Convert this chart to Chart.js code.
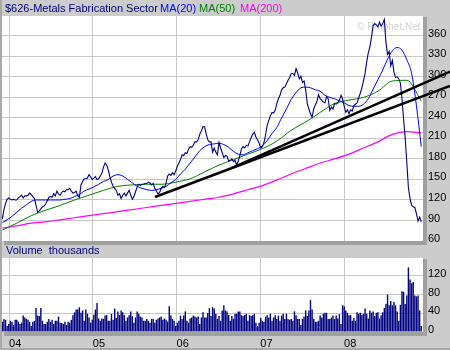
<!DOCTYPE html>
<html>
<head>
<meta charset="utf-8">
<script src="https://cdn.jsdelivr.net/npm/chart.js@4.4.0/dist/chart.umd.min.js"></script>
<style>
  body { margin: 0; }
  #wrap {
    position: relative; width: 450px; height: 350px; overflow: hidden;
    background: #cccccc;
    font-family: "Liberation Sans", Arial, sans-serif; font-size: 11px;
  }
  #wrap .edge-l { position: absolute; left: 0; top: 0; width: 2px; height: 350px; background: #a8a8a8; }
  #wrap .edge-b { position: absolute; left: 0; bottom: 0; width: 450px; height: 2px; background: #a8a8a8; }
  .txt { position: absolute; white-space: nowrap; line-height: 13px; }
  canvas { position: absolute; left: 0; }
</style>
</head>
<body>
<div id="wrap">
  <canvas id="price" width="450" height="246" style="top:0"></canvas>
  <canvas id="volume" width="450" height="104" style="top:246px"></canvas>
  <div class="edge-l"></div>
  <div class="edge-b"></div>
  <span class="txt" style="left:5px;top:2px;color:#000080">$626-Metals Fabrication Sector</span>
  <span class="txt" style="left:160px;top:2px;color:#0000ff">MA(20)</span>
  <span class="txt" style="left:199px;top:2px;color:#008000">MA(50)</span>
  <span class="txt" style="left:240px;top:2px;color:#ff00ff">MA(200)</span>
  <span class="txt" style="left:6px;top:244px;color:#000080">Volume&nbsp; thousands</span>
</div>

<script>
/* =====================================================
   DATA  (weekly closes, Dec 2003 - Nov 2008)
===================================================== */
const START = 2003.92;          // first week, decimal year
const WEEK = 7 / 365.25;

const YEARS = [2004, 2005, 2006, 2007, 2008];
const YEAR_LABELS = ["04", "05", "06", "07", "08"];
const PRICE_TICKS = [60, 90, 120, 150, 180, 210, 240, 270, 300, 330, 360];
const VOLUME_TICKS = [0, 40, 80, 120];

const PRICE = [
  92,106,115,121,123,121,120,121,120,120,
  123,125,127,123,126,126,127,130,128,125,
  122,112,102,104,107,110,111,114,119,124,
  125,124,129,126,133,129,127,131,133,132,
  135,135,137,133,130,131,133,126,124,142,
  147,151,151,152,157,154,150,152,154,150,
  151,155,159,168,174,171,164,154,146,140,
  137,134,127,129,122,127,130,126,130,134,
  127,121,125,132,139,143,141,143,143,144,
  144,146,145,142,144,137,133,129,131,137,
  140,138,145,155,158,156,160,157,162,169,
  174,179,186,185,189,188,194,198,197,200,
  205,205,208,216,221,227,227,217,208,205,
  205,190,196,190,186,204,196,189,182,185,
  184,177,178,180,176,178,171,177,185,195,
  198,196,200,199,205,211,216,219,212,208,
  203,196,198,204,215,229,236,243,248,247,
  251,261,268,273,281,284,285,290,295,299,
  305,305,302,312,306,297,301,292,294,281,
  261,253,246,241,253,259,264,274,268,266,
  263,262,271,268,251,256,253,261,260,262,
  266,273,268,257,248,252,246,252,250,258,
  260,262,269,276,284,294,305,322,335,344,
  358,375,378,376,373,380,374,378,384,350,
  333,337,316,324,307,299,300,297,291,268,
  238,210,175,138,122,112,110,109,100,89,
  95,88
];

// moving averages, sampled every few weeks
const MA20_STEP = 3;
const MA20 = [
  87,91,96,102,108,113,118,120,120,120,
  120,120,120,121,122,125,128,133,136,139,
  143,147,150,155,157,155,150,145,140,137,
  135,134,135,137,140,145,150,158,165,174,
  183,192,198,201,202,203,201,197,191,187,
  186,189,192,195,199,207,217,226,240,253,
  267,277,284,285,284,281,279,273,270,268,
  265,262,258,257,257,260,268,282,296,310,
  326,338,343,339,325,305,258,198
];

const MA_LONG_STEP = 9;
const MA50 = [
  76,86,97,105,112,120,127,134,140,142,
  143,143,146,151,161,171,179,187,195,206,
  222,234,248,261,266,270,279,294,295,265
];
const MA200 = [
  79,82,86,88,91,94,97,100,103,106,
  109,112,115,118,121,124,129,135,141,149,
  158,166,174,180,187,196,205,216,220,218
];

// trendlines: [date, price] end points
const TREND_LOW_DATES = [2005.743, 2009.266];
const TREND_LOW_VALUES = [124.4, 286.8];
const TREND_HIGH_DATES = [2006.663, 2009.266];
const TREND_HIGH_VALUES = [166.8, 307.8];

const VOLUME = [
  22,28,26,13,17,24,22,15,26,26,
  22,17,20,35,31,28,26,22,13,22,
  24,51,35,34,51,24,17,17,22,28,
  22,
  26,17,24,24,33,20,19,17,22,15,
  22,20,26,36,42,48,48,53,41,46,
  24,48,39,31,20,26,37,48,62,29,
  24,29,28,35,36,24,24,39,26,50,
  30,
  44,36,46,42,36,24,31,36,44,34,
  20,31,44,39,33,31,24,24,28,24,
  20,28,28,20,26,29,31,33,26,29,
  26,22,55,35,28,24,13,20,24,35,
  28,
  35,44,24,20,29,31,35,33,31,33,
  17,31,42,31,31,40,51,34,53,50,
  39,28,34,24,46,57,46,44,36,24,
  34,28,39,39,44,44,36,34,36,39,
  24,36,34,36,39,20,13,20,
  30,
  24,22,33,36,31,39,24,31,36,28,
  35,24,35,39,28,39,28,26,28,24,
  44,36,28,28,15,28,33,46,
  34,
  46,68,48,28,22,22,24,35,31,39,
  41,41,28,28,31,35,28,35,29,38,
  17,57,55,46,41,36,36,24,
  30,
  24,42,39,41,36,39,50,39,29,46,
  41,44,34,41,42,29,
  36,
  42,51,60,80,57,66,57,64,57,44,24,
  58,87,86,60,78,138,112,104,107,78,76,78,46,13
];


/* =====================================================
   HELPERS
===================================================== */
const X_MIN = 2003.916;
const X_MAX = 2008.943;
const GRID = "#c8c8c8";
const FONT = { family: "Liberation Sans", size: 11 };

function weekly(values, step) {
  return values.map((v, i) => ({ x: START + i * step * WEEK, y: v }));
}

function pairs(dates, values) {
  return dates.map((d, i) => ({ x: d, y: values[i] }));
}

// white plot area with the grey drop shadow on the right and bottom
const panelBg = {
  id: "panelBg",
  beforeDraw(chart) {
    const { ctx, chartArea: a } = chart;
    ctx.save();
    ctx.fillStyle = "#ffffff";
    ctx.fillRect(a.left, a.top, a.right - a.left, a.bottom - a.top);
    ctx.fillStyle = "#a0a0a0";
    ctx.fillRect(a.right, a.top + 1, 4, a.bottom - a.top + 3);
    ctx.fillRect(a.left + 2, a.bottom, a.right - a.left + 2, 4);
    ctx.restore();
  }
};

const watermark = {
  id: "watermark",
  beforeDatasetsDraw(chart) {
    const { ctx } = chart;
    ctx.save();
    ctx.font = "10px 'Liberation Sans'";
    ctx.fillStyle = "#d2d2d2";
    ctx.textBaseline = "alphabetic";
    ctx.fillText("\u00a9 Prophet.Net", 357, 30);
    ctx.restore();
  }
};

function xScale(showLabels, height) {
  return {
    type: "linear",
    min: X_MIN,
    max: X_MAX,
    bounds: "data",
    offset: false,
    afterBuildTicks: s => { s.ticks = YEARS.map(v => ({ value: v })); },
    afterFit: s => { s.height = height; s.paddingLeft = 0; s.paddingRight = 0; },
    grid: { color: GRID, drawTicks: false, offset: false },
    border: { display: false },
    ticks: {
      display: showLabels,
      align: "start",
      autoSkip: false,
      maxRotation: 0,
      padding: 5,
      color: "#000000",
      font: FONT,
      callback: v => YEAR_LABELS[YEARS.indexOf(v)]
    }
  };
}

function yScale(min, max, ticks) {
  return {
    position: "right",
    min: min,
    max: max,
    bounds: "data",
    afterBuildTicks: s => { s.ticks = ticks.map(v => ({ value: v })); },
    afterFit: s => { s.width = 27; s.paddingTop = 0; s.paddingBottom = 0; },
    grid: {
      drawTicks: false,
      color: c => (c.tick && c.tick.value === min) ? "rgba(0,0,0,0)" : GRID
    },
    border: { display: false },
    ticks: { color: "#000000", font: FONT, padding: 5, labelOffset: -2 }
  };
}

const common = {
  responsive: false,
  animation: false,
  devicePixelRatio: 1,
  events: [],
  plugins: { legend: { display: false }, tooltip: { enabled: false } }
};


/* =====================================================
   PRICE PANEL
===================================================== */
new Chart(document.getElementById("price"), {
  type: "line",
  data: {
    datasets: [
      {
        data: pairs(TREND_HIGH_DATES, TREND_HIGH_VALUES),
        borderColor: "#000000", borderWidth: 2.5, pointRadius: 0,
        clip: { left: 0, top: 0, right: false, bottom: 0 }, order: 0
      },
      {
        data: pairs(TREND_LOW_DATES, TREND_LOW_VALUES),
        borderColor: "#000000", borderWidth: 2.5, pointRadius: 0,
        clip: { left: 0, top: 0, right: false, bottom: 0 }, order: 0
      },
      {
        data: weekly(PRICE, 1),
        borderColor: "#000080", borderWidth: 1.1, pointRadius: 0, tension: 0, order: 1
      },
      {
        data: weekly(MA20, MA20_STEP),
        borderColor: "#0000ff", borderWidth: 1, pointRadius: 0,
        cubicInterpolationMode: "monotone", order: 2
      },
      {
        data: weekly(MA50, MA_LONG_STEP),
        borderColor: "#008000", borderWidth: 1, pointRadius: 0,
        cubicInterpolationMode: "monotone", order: 3
      },
      {
        data: weekly(MA200, MA_LONG_STEP),
        borderColor: "#ff00ff", borderWidth: 1.2, pointRadius: 0,
        cubicInterpolationMode: "monotone", order: 4
      }
    ]
  },
  options: {
    ...common,
    layout: { padding: { left: 2, top: 16, right: 0, bottom: 5 } },
    scales: {
      x: xScale(false, 0),
      y: yScale(60, 389, PRICE_TICKS)
    }
  },
  plugins: [panelBg, watermark]
});


/* =====================================================
   VOLUME PANEL
===================================================== */
new Chart(document.getElementById("volume"), {
  type: "bar",
  data: {
    datasets: [{
      data: weekly(VOLUME, 1),
      backgroundColor: "#000080",
      barThickness: 1.4,
      inflateAmount: 0,
      grouped: false
    }]
  },
  options: {
    ...common,
    layout: { padding: { left: 2, top: 12, right: 0, bottom: 0 } },
    scales: {
      x: xScale(true, 18),
      y: yScale(0, 158, VOLUME_TICKS)
    }
  },
  plugins: [panelBg]
});
</script>
</body>
</html>
